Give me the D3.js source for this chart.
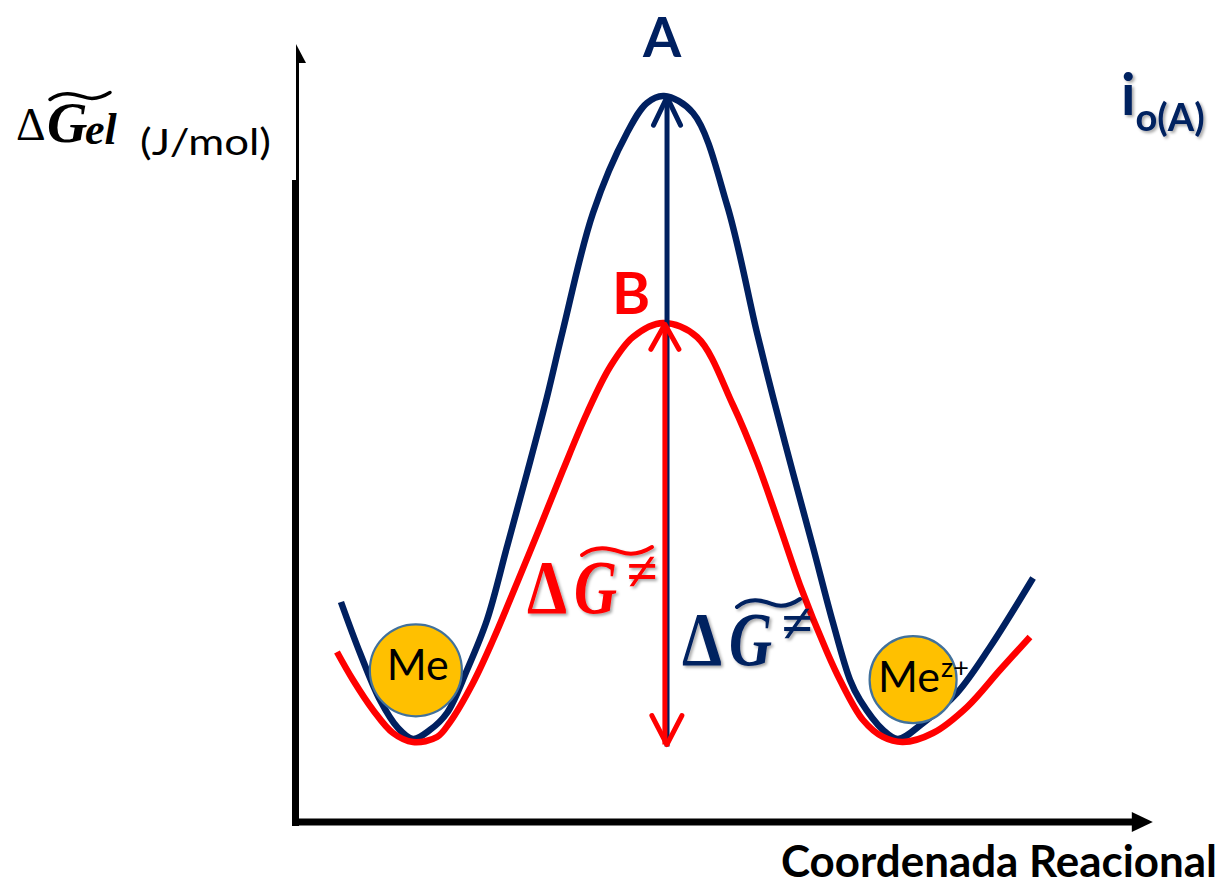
<!DOCTYPE html>
<html><head><meta charset="utf-8">
<script src="https://cdn.jsdelivr.net/npm/d3@7"></script>
<style>html,body{margin:0;padding:0;background:#fff;overflow:hidden}</style>
</head><body>
<svg id="chart" width="1230" height="885"></svg>
<script>
// ---- data (reaction coordinate 0-100, free energy 0-100) ----
const curveA_x = [5.29, 7.53, 9.88, 12.0, 13.76, 15.76, 17.76, 20.12, 22.47, 24.82, 27.18, 29.53, 31.41, 34.94, 38.94, 41.29, 43.29, 46.71, 50.71, 54.24, 56.12, 58.47, 60.82, 63.18, 65.18, 66.35, 69.06, 70.82, 73.76, 77.76, 81.65, 86.71];
const curveA_y = [28.28, 21.72, 15.68, 12.08, 10.67, 11.83, 14.01, 19.54, 25.96, 35.35, 44.86, 54.63, 63.24, 78.28, 88.56, 92.42, 93.32, 91.13, 79.31, 62.85, 54.63, 44.86, 35.35, 25.58, 18.25, 15.68, 11.83, 10.67, 12.72, 16.58, 22.49, 31.36];
const curveB_x = [4.82, 6.71, 9.06, 11.41, 13.76, 16.59, 18.12, 20.82, 23.18, 26.0, 28.71, 31.41, 34.24, 36.94, 39.65, 43.18, 47.18, 51.41, 54.24, 56.94, 59.29, 62.47, 64.0, 66.71, 69.06, 71.41, 74.94, 78.94, 82.82, 86.35];
const curveB_y = [21.85, 18.25, 14.40, 11.44, 10.28, 10.93, 12.85, 17.87, 23.39, 30.72, 37.92, 45.24, 52.57, 58.48, 62.34, 64.14, 62.34, 53.60, 46.27, 37.92, 30.46, 21.85, 18.25, 13.11, 10.93, 10.28, 11.44, 14.78, 19.54, 23.78];
const barrierX = [43.65, 43.4];          // arrow positions: A, B
const barrierBase = [9.7, 9.7];          // arrow start energies
const barrierTop = [93.3, 64.1];         // peak energies A, B
const speciesNames = ["Me", "Me"];
const speciesSup = ["", "z+"];
const speciesX = [14.1, 72.6];
const speciesY = [19.5, 18.3];
const axisMax = [100.8, 100];            // x arrow tip, y arrow tip

const NAVY = "#002060", RED = "#FF0000";

const svg = d3.select("#chart");
const defs = svg.append("defs");
const f = defs.append("filter").attr("id", "sh").attr("x", "-20%").attr("y", "-20%").attr("width", "150%").attr("height", "150%");
f.append("feDropShadow").attr("dx", 2).attr("dy", 2).attr("stdDeviation", 1.6).attr("flood-color", "#000").attr("flood-opacity", 0.35);

const x = d3.scaleLinear().domain([0, 100]).range([296, 1146]);
const y = d3.scaleLinear().domain([0, 100]).range([822, 44]);

// ---- axes ----
const ax = svg.append("g");
ax.append("line").attr("x1", x(0) + 1.5).attr("x2", x(0) + 1.5).attr("y1", y(axisMax[1]) + 12).attr("y2", 180)
  .attr("stroke", "#000").attr("stroke-width", 3);
ax.append("line").attr("x1", x(0) - 0.5).attr("x2", x(0) - 0.5).attr("y1", 180).attr("y2", y(0) + 4)
  .attr("stroke", "#000").attr("stroke-width", 7);
ax.append("path").attr("d", `M${x(0)},${y(axisMax[1])} L${x(0) + 10},${y(axisMax[1]) + 19} L${x(0)},${y(axisMax[1]) + 19}Z`).attr("fill", "#000");
ax.append("line").attr("x1", x(0) - 4).attr("x2", x(axisMax[0]) - 20).attr("y1", y(0)).attr("y2", y(0))
  .attr("stroke", "#000").attr("stroke-width", 7);
ax.append("path").attr("d", `M${x(axisMax[0]) - 21},${y(0) - 10} L${x(axisMax[0])},${y(0)} L${x(axisMax[0]) - 21},${y(0) + 10}Z`).attr("fill", "#000");

// ---- curves ----
const line = d3.line().x(d => x(d[0])).y(d => y(d[1])).curve(d3.curveCatmullRom.alpha(0.5));
svg.append("path").datum(d3.zip(curveA_x, curveA_y)).attr("d", line)
  .attr("fill", "none").attr("stroke", NAVY).attr("stroke-width", 6.5);
svg.append("path").datum(d3.zip(curveB_x, curveB_y)).attr("d", line)
  .attr("fill", "none").attr("stroke", RED).attr("stroke-width", 6.5);

// ---- arrows ----
function chevron(cx, cy, dir, w, h) {
  return `M${cx - w},${cy + dir * h} L${cx},${cy} L${cx + w},${cy + dir * h}`;
}
svg.append("line").attr("x1", x(barrierX[0])).attr("x2", x(barrierX[0]))
  .attr("y1", y(barrierBase[0])).attr("y2", y(barrierTop[0]) + 2)
  .attr("stroke", NAVY).attr("stroke-width", 5);
svg.append("path").attr("d", chevron(x(barrierX[0]), y(barrierTop[0]) + 1, 1, 13.5, 28))
  .attr("fill", "none").attr("stroke", NAVY).attr("stroke-width", 5).attr("stroke-linecap", "round").attr("stroke-linejoin", "round");
svg.append("line").attr("x1", x(barrierX[1])).attr("x2", x(barrierX[1]))
  .attr("y1", y(barrierBase[1]) - 2).attr("y2", y(barrierTop[1]) + 2)
  .attr("stroke", RED).attr("stroke-width", 5);
svg.append("path").attr("d", chevron(x(barrierX[1]), y(barrierTop[1]) + 1, 1, 14, 25))
  .attr("fill", "none").attr("stroke", RED).attr("stroke-width", 5).attr("stroke-linecap", "round").attr("stroke-linejoin", "round");
svg.append("path").attr("d", chevron(x(barrierX[1]) + 2, y(barrierBase[1]) - 2, -1, 15, 29))
  .attr("fill", "none").attr("stroke", RED).attr("stroke-width", 5).attr("stroke-linecap", "round").attr("stroke-linejoin", "round");

// ---- species circles ----
const sans = "Lato, 'Open Sans', sans-serif";
const serif = "'Liberation Serif', 'DejaVu Serif', serif";
const sp = svg.selectAll("g.sp").data(d3.range(speciesNames.length)).join("g").attr("class", "sp");
sp.append("circle").attr("cx", i => x(speciesX[i])).attr("cy", i => y(speciesY[i])).attr("r", i => i === 0 ? 46 : 43.5)
  .attr("fill", "#FFC000").attr("stroke", "#41719C").attr("stroke-width", 2.2);
sp.append("text")
  .attr("x", i => x(speciesX[i]) - (i === 0 ? 29 : 35)).attr("y", i => y(speciesY[i]) + (i === 0 ? 10 : 12))
  .attr("font-family", sans).attr("font-size", 43).attr("fill", "#000")
  .each(function (i) {
    const t = d3.select(this);
    t.append("tspan").text(speciesNames[i]);
    if (speciesSup[i]) t.append("tspan").attr("font-size", 27).attr("dy", -15).attr("dx", 1).text(speciesSup[i]);
  });

// ---- labels ----
svg.append("text").attr("x", 662).attr("y", 57).attr("text-anchor", "middle")
  .attr("font-family", sans).attr("font-weight", 700).attr("font-size", 55).attr("fill", NAVY).text("A");
svg.append("text").attr("x", 631).attr("y", 314).attr("text-anchor", "middle")
  .attr("font-family", sans).attr("font-weight", 700).attr("font-size", 58).attr("fill", RED).text("B");

const io = svg.append("text").attr("x", 1121).attr("y", 115).attr("font-family", sans).attr("font-weight", 700)
  .attr("fill", NAVY).attr("filter", "url(#sh)");
io.append("tspan").attr("font-size", 57).text("i");
io.append("tspan").attr("font-size", 38).attr("dy", 16).text("o(A)");

function tilde(g, x0, x1, yMid, amp, color, sw) {
  const w = x1 - x0;
  g.append("path")
    .attr("d", `M${x0},${yMid + amp} C${x0 + w * 0.2},${yMid - amp * 1.6} ${x0 + w * 0.4},${yMid - amp * 0.6} ${x0 + w * 0.55},${yMid + amp * 0.2} C${x0 + w * 0.7},${yMid + amp * 1.2} ${x0 + w * 0.85},${yMid + amp * 0.6} ${x1},${yMid - amp}`)
    .attr("fill", "none").attr("stroke", color).attr("stroke-width", sw).attr("stroke-linecap", "round");
}

function deltaG(gx, gy, color, tw) {
  const g = svg.append("g").attr("filter", "url(#sh)");
  g.append("text").attr("x", gx).attr("y", gy).attr("font-family", serif).attr("font-weight", 700)
    .attr("font-size", 76).attr("textLength", 40).attr("lengthAdjust", "spacingAndGlyphs").attr("fill", color).text("Δ");
  g.append("text").attr("x", gx + 47).attr("y", gy).attr("font-family", serif).attr("font-weight", 700)
    .attr("font-style", "italic").attr("font-size", 76).attr("textLength", 43).attr("lengthAdjust", "spacingAndGlyphs").attr("fill", color).text("G");
  g.append("text").attr("x", gx + 100).attr("y", gy - 23).attr("font-family", serif).attr("font-weight", 700)
    .attr("font-size", 56).attr("fill", color).text("≠");
  tilde(g, gx + 55, gx + tw, gy - 62, 4, color, 4);
}
deltaG(527, 613, RED, 125);
deltaG(682, 665, NAVY, 118);

// y-axis label
const yl = svg.append("g");
yl.append("text").attr("x", 16).attr("y", 140).attr("font-family", serif).attr("font-size", 46).attr("fill", "#000").text("Δ");
yl.append("text").attr("x", 47).attr("y", 142).attr("font-family", serif).attr("font-weight", 700).attr("font-style", "italic")
  .attr("font-size", 56).attr("fill", "#000").text("G");
yl.append("text").attr("x", 85).attr("y", 144).attr("font-family", serif).attr("font-weight", 700).attr("font-style", "italic")
  .attr("font-size", 44).attr("fill", "#000").text("el");
tilde(yl, 50, 110, 96, 3.5, "#000", 3.5);
yl.append("text").attr("x", 140).attr("y", 155).attr("font-family", sans).attr("font-size", 36)
  .attr("textLength", 131).attr("lengthAdjust", "spacingAndGlyphs").attr("fill", "#000").text("(J/mol)");

// x-axis label
svg.append("text").attr("x", 781).attr("y", 877).attr("font-family", sans).attr("font-weight", 700)
  .attr("font-size", 44).attr("textLength", 436).attr("lengthAdjust", "spacingAndGlyphs")
  .attr("fill", "#000").text("Coordenada Reacional");
</script>
</body></html>
